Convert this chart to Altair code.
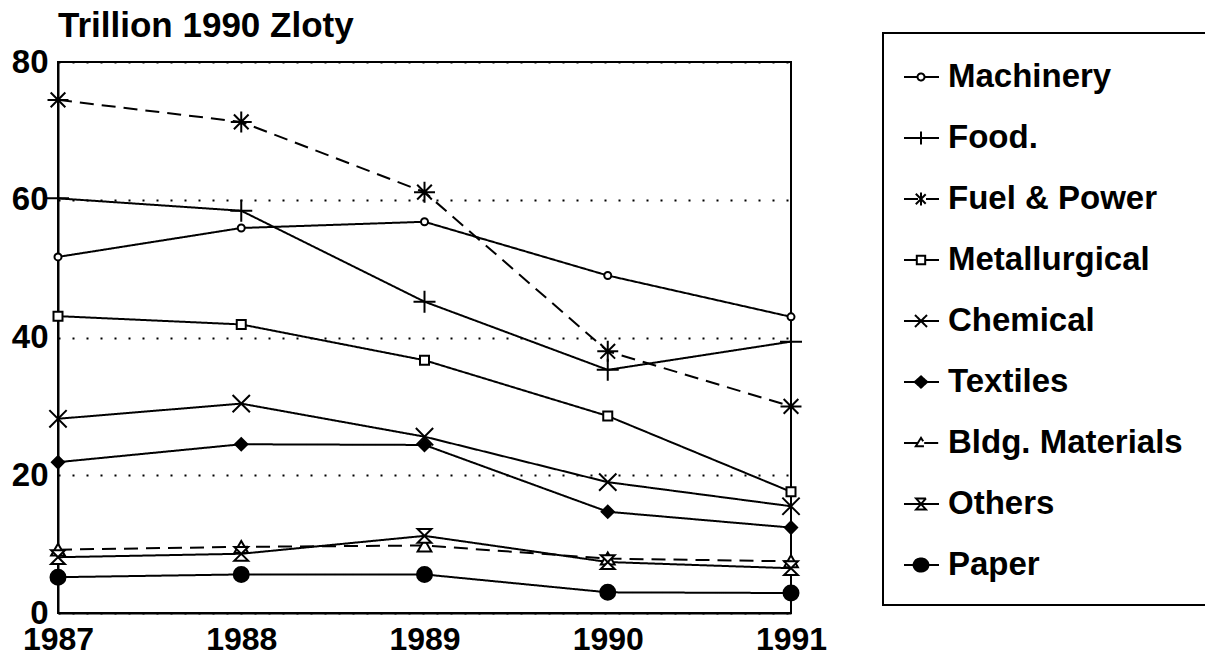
import altair as alt
import pandas as pd

years = [1987, 1988, 1989, 1990, 1991]
series_names = ["Machinery", "Food.", "Fuel & Power", "Metallurgical", "Chemical",
                "Textiles", "Bldg. Materials", "Others", "Paper"]
machinery = [51.7, 55.9, 56.8, 49.0, 43.0]
food = [60.2, 58.4, 45.2, 35.3, 39.4]
fuel_power = [74.5, 71.3, 61.1, 38.0, 30.0]
metallurgical = [43.1, 41.9, 36.7, 28.6, 17.6]
chemical = [28.2, 30.4, 25.6, 19.0, 15.5]
textiles = [21.9, 24.5, 24.4, 14.7, 12.4]
bldg_materials = [9.2, 9.6, 9.8, 7.9, 7.5]
others = [8.1, 8.6, 11.2, 7.4, 6.5]
paper = [5.2, 5.6, 5.6, 3.0, 2.9]
y_ticks = [0, 20, 40, 60, 80]

all_values = [machinery, food, fuel_power, metallurgical, chemical,
              textiles, bldg_materials, others, paper]
rows = []
for name, vals in zip(series_names, all_values):
    for yr, v in zip(years, vals):
        rows.append({"series": name, "year": yr, "value": v})
df = pd.DataFrame(rows)

FONT = "Liberation Sans"

# ---- styles per series (plot markers) ----
dashes = {"Fuel & Power": [14, 8], "Bldg. Materials": [14, 8]}
plot_marks = {
    "Machinery": ("circle", 49, "white"),
    "Food.": ("M-1,0L1,0M0,-1L0,1", 484, "white"),
    "Fuel & Power": ("M-1,0L1,0M0,-1L0,1M-0.7,-0.7L0.7,0.7M-0.7,0.7L0.7,-0.7", 440, "white"),
    "Metallurgical": ("square", 81, "white"),
    "Chemical": ("M-1,-1L1,1M-1,1L1,-1", 300, "white"),
    "Textiles": ("diamond", 150, "black"),
    "Bldg. Materials": ("triangle-up", 190, "white"),
    "Others": ("M-1,-1L1,-1L-1,1L1,1Z", 190, "white"),
    "Paper": ("circle", 225, "black"),
}

# ---- legend symbols: short line + marker (unit square path) ----
L0, L1, C = -1.15, 0.6, -0.3


def seg(a, b):
    return f"M{a:.3f},0L{b:.3f},0"


def ellipse(cx, rx, ry):
    return (f"M{cx - rx:.3f},0A{rx},{ry} 0 1,1 {cx + rx:.3f},0"
            f"A{rx},{ry} 0 1,1 {cx - rx:.3f},0Z")


full = seg(L0, L1)
legend_paths = [
    seg(L0, C - 0.175) + seg(C + 0.175, L1) + ellipse(C, 0.175, 0.175),
    full + f"M{C},-0.33L{C},0.33",
    full + f"M{C},-0.32L{C},0.32M{C-0.26},-0.26L{C+0.26},0.26M{C-0.26},0.26L{C+0.26},-0.26",
    seg(L0, C - 0.21) + seg(C + 0.21, L1)
    + f"M{C-0.21},-0.21L{C+0.21},-0.21L{C+0.21},0.21L{C-0.21},0.21Z",
    full + f"M{C-0.3},-0.3L{C+0.3},0.3M{C-0.3},0.3L{C+0.3},-0.3",
    full + f"M{C-0.31},0L{C},-0.28L{C+0.31},0L{C},0.28Z",
    seg(L0, C - 0.16) + seg(C + 0.16, L1) + f"M{C-0.26},0.16L{C},-0.26L{C+0.26},0.16Z",
    full + f"M{C-0.25},-0.28L{C+0.25},-0.28L{C-0.25},0.28L{C+0.25},0.28Z",
    full + ellipse(C, 0.37, 0.33),
]
legend_fills = ["white", "white", "white", "white", "white", "black", "white", "white", "black"]

x_enc = alt.X("year:Q", scale=alt.Scale(domain=[1987, 1991], nice=False),
              axis=alt.Axis(values=years, format="d", title=None, grid=False, ticks=False,
                            labelPadding=11, labelFontSize=32, labelFont=FONT,
                            labelFontWeight="bold", labelColor="black",
                            domainColor="black", domainWidth=2, labelFlush=False))
y_enc = alt.Y("value:Q", scale=alt.Scale(domain=[0, 80], nice=False),
              axis=alt.Axis(values=y_ticks, title=None, ticks=False, labelPadding=10,
                            labelFontSize=33, labelFont=FONT, labelFontWeight="bold",
                            labelColor="black", domainColor="black", domainWidth=2,
                            grid=True, gridColor="black", gridWidth=2, gridDash=[2, 12],
                            gridOpacity=1))

base = alt.Chart(df)

lines = base.mark_line(color="black", strokeWidth=2).encode(
    x=x_enc, y=y_enc, detail="series:N",
    strokeDash=alt.StrokeDash("series:N",
                              scale=alt.Scale(domain=series_names,
                                              range=[dashes.get(n, [1, 0]) for n in series_names]),
                              legend=None),
)

point_layers = []
for name in series_names:
    shp, sz, fl = plot_marks[name]
    point_layers.append(
        base.transform_filter(alt.datum.series == name).mark_point(
            shape=shp, size=sz, fill=fl, filled=True, stroke="black", strokeWidth=2,
            opacity=1, fillOpacity=1, strokeOpacity=1,
        ).encode(x=x_enc, y=y_enc)
    )

leg = alt.Legend(title=None, orient="none", legendX=825, legendY=-29,
                 labelFontSize=33, labelFont=FONT, labelFontWeight="bold", labelColor="black",
                 padding=23, rowPadding=23, labelOffset=0, symbolSize=1600,
                 symbolStrokeWidth=2, symbolStrokeColor="black", symbolOpacity=1,
                 strokeColor="black", labelLimit=400)

legend_layer = base.mark_point(
    size=1600, strokeWidth=2, opacity=0, filled=False
).encode(
    x=x_enc, y=y_enc,
    shape=alt.Shape("series:N", scale=alt.Scale(domain=series_names, range=legend_paths), legend=leg),
    fill=alt.Fill("series:N", scale=alt.Scale(domain=series_names, range=legend_fills), legend=leg),
    stroke=alt.Stroke("series:N", scale=alt.Scale(domain=series_names,
                                                  range=["black"] * len(series_names)), legend=leg),
)

chart = alt.layer(legend_layer, lines, *point_layers).properties(
    width=733, height=551,
    background="white",
    title=alt.TitleParams("Trillion 1990 Zloty", anchor="start", fontSize=35, font=FONT,
                          fontWeight="bold", color="black", offset=-12, frame="group"),
    autosize=alt.AutoSizeParams(type="none"),
    padding={"left": 50, "top": 54, "right": 414, "bottom": 38},
).configure_view(stroke="black", strokeWidth=2).configure_legend(strokeWidth=2)

chart.save("out.html", embed_options={"renderer": "svg", "actions": False})
